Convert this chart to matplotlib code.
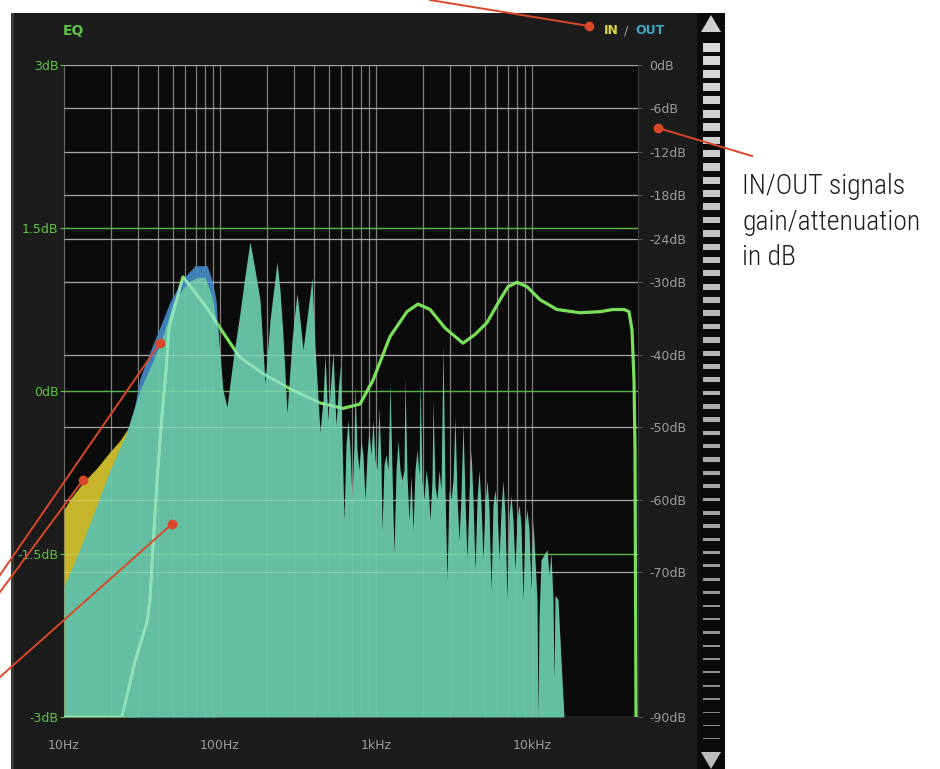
import numpy as np
import matplotlib
matplotlib.use("Agg")
import matplotlib.pyplot as plt
from matplotlib.patches import Rectangle, Polygon
from matplotlib.ticker import FixedLocator, NullLocator
from matplotlib.transforms import blended_transform_factory

# analyser spectrum (IN and OUT overlap), right axis in dB
spec_freq = [10, 12.7, 15.8, 19.7, 25.3, 30.7, 35.6, 41.2, 50.0, 57.9,
             64.2, 72.3, 80.1, 88.9, 97.1, 104.5, 110.9, 121.2, 134.3, 144.7,
             155.7, 167.7, 180.5, 194.4, 209.2, 232.0, 242.4, 253.4, 268.9, 289.4,
             311.6, 325.7, 340.6, 366.6, 388.9, 406.4, 437.5, 457.4, 471.1, 492.4,
             530.2, 554.2, 587.8, 605.4, 623.6, 642.3, 661.5, 681.3, 701.7, 722.7,
             733.4, 755.4, 778.0, 801.3, 825.3, 850.0, 875.5, 901.7, 928.7, 956.7,
             985.3, 1015, 1045, 1077, 1093, 1125, 1159, 1194, 1230, 1266,
             1304, 1344, 1384, 1425, 1468, 1512, 1534, 1580, 1628, 1677,
             1727, 1778, 1832, 1887, 1915, 1972, 2031, 2092, 2154, 2219,
             2286, 2320, 2389, 2461, 2534, 2610, 2689, 2769, 2852, 2938,
             3026, 3116, 3210, 3306, 3405, 3507, 3612, 3721, 3832, 3947,
             4065, 4187, 4313, 4442, 4575, 4712, 4853, 4999, 5149, 5303,
             5462, 5623, 5795, 5969, 6148, 6328, 6518, 6713, 6914, 7122,
             7335, 7555, 7781, 8014, 8254, 8502, 8755, 9019, 9289, 9567,
             9853, 10148, 10453, 10766, 10927, 11089, 11420, 11937, 12478, 12852,
             13236, 13633, 13836, 14041, 14678, 15343, 16040]
spec_db = [-72.0, -66.7, -61.4, -55.9, -50.7, -44.9, -41.8, -38.6, -32.9, -30.8,
           -29.8, -29.3, -29.3, -32.0, -36.6, -44.9, -47.2, -40.7, -34.2, -29.0,
           -24.4, -28.3, -32.4, -43.9, -35.2, -27.2, -31.1, -37.3, -48.0, -38.0,
           -31.5, -35.2, -39.3, -33.8, -29.4, -38.9, -50.7, -46.2, -40.0, -49.0,
           -39.6, -49.7, -41.4, -51.8, -62.8, -52.4, -49.0, -53.1, -60.0, -52.4,
           -44.2, -53.1, -55.9, -51.8, -53.8, -60.0, -53.8, -50.4, -53.8, -49.0,
           -54.5, -55.9, -47.2, -55.2, -64.2, -55.2, -53.8, -55.9, -43.9, -55.9,
           -67.4, -55.9, -51.8, -55.9, -57.3, -55.9, -43.1, -56.6, -62.8, -56.6,
           -64.2, -55.9, -53.1, -56.6, -43.5, -57.3, -60.0, -55.9, -58.0, -62.8,
           -57.3, -46.2, -58.0, -60.0, -55.9, -58.7, -38.4, -58.7, -71.1, -58.7,
           -60.0, -57.3, -48.6, -59.4, -65.6, -59.4, -49.4, -60.0, -68.3, -59.4,
           -53.1, -60.0, -69.7, -60.0, -55.9, -60.7, -68.3, -60.7, -57.3, -61.4,
           -72.5, -60.7, -58.7, -61.4, -68.3, -61.4, -57.3, -62.1, -73.8, -62.1,
           -59.4, -62.8, -69.7, -62.8, -60.7, -63.5, -73.8, -63.5, -61.4, -64.2,
           -72.5, -62.8, -68.3, -73.8, -90.0, -76.6, -68.3, -67.6, -66.9, -70.4,
           -67.4, -73.8, -84.9, -73.2, -73.8, -82.1, -90.0]

# where IN is louder than OUT (low cut) and OUT louder than IN (boost)
in_lo_freq = [10, 10.9, 13.2, 16.3, 19.7, 22.9, 25.3, 28.5]
in_lo_db = [-61.4, -60.0, -57.7, -55.6, -53.4, -51.8, -50.4, -48.3]
out_lo_freq = [25.3, 28.5, 30.7, 35.6, 41.2, 47.8, 57.9, 69.2, 82.6, 88.9, 94.3, 97.1]
out_lo_db = [-50.7, -46.9, -43.2, -39.6, -36.2, -32.7, -29.5, -27.7, -27.7, -29.7, -32.4, -36.6]

# EQ curve, left axis in dB
eq_freq = [10, 23.5, 28.5, 34.0, 35.6, 37.2, 39.5, 42.5, 45.1, 47.1,
           52.2, 57.9, 69.1, 83.8, 100, 134, 189, 281, 438, 614,
           790, 957, 1229, 1580, 1858, 2220, 2769, 3612, 4311, 5147,
           6235, 7017, 8011, 9289, 11255, 14460, 20310, 27290, 33060, 38880,
           41870, 43750, 45070, 45740, 46420]
eq_gain = [-3.0, -3.0, -2.49, -2.13, -1.92, -1.42, -0.82, -0.22, 0.19, 0.58,
           0.82, 1.05, 0.91, 0.75, 0.58, 0.31, 0.16, 0.02, -0.11, -0.16,
           -0.12, 0.10, 0.50, 0.73, 0.80, 0.75, 0.58, 0.44, 0.52, 0.63,
           0.84, 0.96, 1.00, 0.96, 0.84, 0.75, 0.72, 0.73, 0.75, 0.75,
           0.73, 0.56, 0.10, -0.54, -3.0]

gain_ticks = [-3, -1.5, 0, 1.5, 3]
gain_labels = ['-3dB', '-1.5dB', '0dB', '1.5dB', '3dB']
level_ticks = [0, -6, -12, -18, -24, -30, -40, -50, -60, -70, -90]
level_labels = ['0dB', '-6dB', '-12dB', '-18dB', '-24dB', '-30dB',
                '-40dB', '-50dB', '-60dB', '-70dB', '-90dB']
freq_ticks = [10, 100, 1000, 10000]
freq_labels = ['10Hz', '100Hz', '1kHz', '10kHz']

TEAL = '#63bea2'
BLUE = '#3d7fb6'
YELLOW = '#c6b42a'
EQ_GREEN = '#7ae05a'
LABEL_GREEN = '#5cc444'
GREY = '#9c9c9c'
RED = '#d9482a'

W, H = 940, 769
fig = plt.figure(figsize=(9.4, 7.69), dpi=100)
fig.patch.set_facecolor('white')

# plugin panel and level meter
bg = fig.add_axes([0, 0, 1, 1], zorder=0)
bg.set_xlim(0, W)
bg.set_ylim(H, 0)
bg.axis('off')
bg.add_patch(Rectangle((11, 13), 686, 756, color='#1c1c1c', lw=0))
bg.add_patch(Rectangle((11, 13), 3, 756, color='#383838', lw=0))
bg.add_patch(Rectangle((697, 13), 28, 756, color='#0b0b0b', lw=0))
for i in range(53):
    top = 43 + i * 13.37
    h = max(1.0, 8.5 - 0.14 * i)
    g = 0.85 - 0.32 * i / 52
    bg.add_patch(Rectangle((703, top), 17, h, color=(g, g, g), lw=0))
bg.add_patch(Polygon([(701, 32), (721, 32), (711, 15)], color='#d0d0d0', lw=0))
bg.add_patch(Polygon([(701, 752), (721, 752), (711, 769)], color='#bcbcbc', lw=0))

bg.text(63, 31, 'EQ', color=LABEL_GREEN, fontsize=10, fontweight='bold', va='center')
bg.text(604, 31, 'IN', color='#dcd548', fontsize=9, fontweight='bold', va='center')
bg.text(624, 31, '/', color=GREY, fontsize=9, va='center')
bg.text(635, 31, 'OUT', color='#3fa7c4', fontsize=9, fontweight='bold', va='center')
bg.text(742, 222, 'IN/OUT signals\ngain/attenuation\nin dB', color='#1e1e1e',
        fontsize=20, fontweight='light', va='center', ha='left', linespacing=1.42,
        family=['Roboto Condensed', 'Roboto', 'DejaVu Sans'])

# analyser axes: spectrum on the right scale, EQ on the left scale
ax = fig.add_axes([64 / W, 1 - 717 / H, 574 / W, 652 / H], zorder=1)
ax.set_facecolor('#0b0b0b')
ax.set_xscale('log')
ax.set_xlim(10, 47800)
ax.set_ylim(-90, 0)
ax.set_autoscale_on(False)
ax2 = ax.twinx()
ax2.set_zorder(2)
ax2.patch.set_visible(False)
ax2.set_ylim(-3, 3)
ax2.set_autoscale_on(False)

ax.yaxis.tick_right()
ax2.yaxis.tick_left()
gain_tf = ax2.transData
row_tf = blended_transform_factory(ax.transAxes, ax2.transData)

# grid under the spectrum
grid_freqs = [m * 10 ** d for d in range(1, 4) for m in range(2, 10)] + [100, 1000, 10000]
for f in grid_freqs:
    ax.axvline(f, color='#767676', lw=0.9, zorder=1.5)
for lv in level_ticks:
    ax.axhline(lv, color='#8e8e8e', lw=0.9, zorder=1.6)
for g in [1.5, 0, -1.5]:
    ax.plot([0, 1], [g, g], transform=row_tf, color='#3e8f2e', lw=1.0, zorder=1.7)

# EQ curve (bright part shows where nothing covers it)
ax.plot(eq_freq, eq_gain, transform=gain_tf, color=EQ_GREEN, lw=2.3,
        solid_joinstyle='round', solid_capstyle='round', zorder=2)

yel = ax.fill_between(in_lo_freq, in_lo_db, -90, color=YELLOW, lw=0, zorder=3)
blu = ax.fill_between(out_lo_freq, out_lo_db, -90, color=BLUE, lw=0, zorder=4)
tea = ax.fill_between(spec_freq, spec_db, -90, color=TEAL, lw=0, zorder=5)

# EQ curve seen through the spectrum
for coll in (tea, blu):
    ln, = ax.plot(eq_freq, eq_gain, transform=gain_tf, color='#8fe2b6', lw=2.0,
                  solid_joinstyle='round', zorder=6)
    ln.set_clip_path(coll.get_paths()[0], ax.transData)

# faint grid over the spectrum
for f in grid_freqs:
    ax.axvline(f, color='white', alpha=0.07, lw=0.9, zorder=7)
for lv in level_ticks:
    ax.axhline(lv, color='white', alpha=0.22, lw=0.9, zorder=7)
for g in [1.5, 0, -1.5]:
    ax.plot([0, 1], [g, g], transform=row_tf, color='#a8ff98', alpha=0.3, lw=1.0, zorder=7)

for a in (ax, ax2):
    for s in a.spines.values():
        s.set_visible(False)
ax.spines['left'].set_visible(True)
ax.spines['left'].set_color('#6a6a6a')
ax.spines['right'].set_visible(True)
ax.spines['right'].set_color('#3a3a3a')

ax.xaxis.set_major_locator(FixedLocator(freq_ticks))
ax.xaxis.set_minor_locator(NullLocator())
ax.set_xticklabels(freq_labels)
ax.tick_params(axis='x', length=0, pad=16, labelsize=9, labelcolor=GREY)

ax.set_yticks(level_ticks)
ax.set_yticklabels(level_labels)
ax.tick_params(axis='y', direction='out', length=3, width=0.8, color='#555555',
               pad=5, labelsize=9, labelcolor=GREY)

ax2.set_yticks(gain_ticks)
ax2.set_yticklabels(gain_labels)
ax2.tick_params(axis='y', direction='out', length=3, width=0.8, color=LABEL_GREEN,
                pad=1, labelsize=9, labelcolor=LABEL_GREEN)

# red callouts of the screenshot
ov = fig.add_axes([0, 0, 1, 1], zorder=5)
ov.set_xlim(0, W)
ov.set_ylim(H, 0)
ov.axis('off')
callouts = [((430, 0), (589, 26)), ((752, 156), (658, 128)),
            ((0, 575), (160, 343)), ((0, 592), (83, 480)), ((0, 677), (172, 524))]
for (x0, y0), (x1, y1) in callouts:
    ov.plot([x0, x1], [y0, y1], color=RED, lw=1.4)
    ov.plot([x1], [y1], 'o', color=RED, ms=6)

fig.savefig('out.png', dpi=100)
